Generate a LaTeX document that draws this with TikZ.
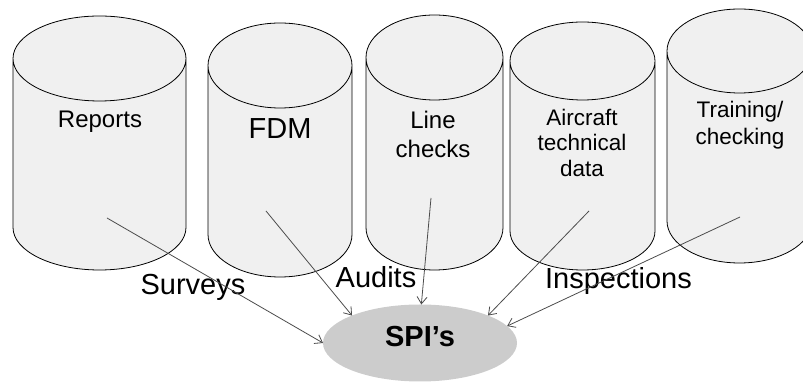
\documentclass[tikz,border=0pt]{standalone}
\usepackage{fontspec}
\setmainfont{Liberation Sans}
\usetikzlibrary{arrows.meta,shapes.geometric}
\tikzset{
  drum/.style={draw=black, line width=0.8pt, fill=gray!12},
  dbtext/.style={anchor=north, align=center, inner sep=0pt},
  flow/.style={anchor=base, inner sep=0pt, font=\fontsize{29}{33}\selectfont},
  arr/.style={-{Straight Barb[length=7pt,width=10pt]}, draw=black!70, line width=0.8pt},
  spibox/.style={ellipse, fill=gray!40, minimum width=194pt, minimum height=77pt,
    inner sep=0pt, outer sep=0pt, text height=21pt, text depth=13pt,
    font=\fontsize{29}{33}\selectfont\bfseries}
}

\begin{document}
\begin{tikzpicture}[x=1pt, y=1pt]
  \useasboundingbox (0,0) rectangle (803,382);
  \clip (0,0) rectangle (803,382);

  % data stores
  \draw[drum] (13,323.5) -- (13,154.5) arc[start angle=180, end angle=360, x radius=86.5, y radius=42.5]
    -- (186,323.5) arc[start angle=0, end angle=180, x radius=86.5, y radius=42.5] -- cycle
    (13,323.5) arc[start angle=180, end angle=360, x radius=86.5, y radius=42.5];
  \draw[drum] (208,316.5) -- (208,147.5) arc[start angle=180, end angle=360, x radius=72, y radius=42.5]
    -- (352,316.5) arc[start angle=0, end angle=180, x radius=72, y radius=42.5] -- cycle
    (208,316.5) arc[start angle=180, end angle=360, x radius=72, y radius=42.5];
  \draw[drum] (366,324.5) -- (366,154.5) arc[start angle=180, end angle=360, x radius=68.5, y radius=42.5]
    -- (503,324.5) arc[start angle=0, end angle=180, x radius=68.5, y radius=42.5] -- cycle
    (366,324.5) arc[start angle=180, end angle=360, x radius=68.5, y radius=42.5];
  \draw[drum] (510,321) -- (510,151) arc[start angle=180, end angle=360, x radius=72.5, y radius=39]
    -- (655,321) arc[start angle=0, end angle=180, x radius=72.5, y radius=39] -- cycle
    (510,321) arc[start angle=180, end angle=360, x radius=72.5, y radius=39];
  \draw[drum] (667,331) -- (667,161) arc[start angle=180, end angle=360, x radius=72.5, y radius=42]
    -- (812,331) arc[start angle=0, end angle=180, x radius=72.5, y radius=42] -- cycle
    (667,331) arc[start angle=180, end angle=360, x radius=72.5, y radius=42];

  \node[anchor=base, inner sep=0pt, font=\fontsize{24}{29}\selectfont] (reports) at (100,254) {Reports};
  \node[anchor=base, inner sep=0pt, font=\fontsize{29}{33}\selectfont] (fdm) at (280,243) {FDM};
  \node[dbtext, font=\fontsize{24}{29}\selectfont] (linechk) at (433,271.5) {Line\\checks};
  \node[dbtext, font=\fontsize{22.5}{25.5}\selectfont] (actech) at (582,273) {Aircraft\\technical\\data};
  \node[dbtext, font=\fontsize{22.5}{27}\selectfont] (training) at (740,281) {Training/\\checking};

  % where each feed leaves its store
  \coordinate (reports-src) at (107,164);
  \coordinate (fdm-src) at (266,171);
  \coordinate (linechk-src) at (431,184);
  \coordinate (actech-src) at (589,171);
  \coordinate (training-src) at (740,165);

  \node[flow] (surveys) at (193,87) {Surveys};
  \node[flow] (audits) at (376,94) {Audits};
  \node[flow] (inspections) at (618.5,93) {Inspections};

  \node[spibox] (spi) at (420,39) {SPI’s};

  \draw[arr] (reports-src) -- (spi.180);
  \draw[arr] (fdm-src) -- (spi.158);
  \draw[arr] (linechk-src) -- (spi.88);
  \draw[arr] (actech-src) -- (spi.22);
  \draw[arr] (training-src) -- (spi.11);
\end{tikzpicture}
\end{document}
